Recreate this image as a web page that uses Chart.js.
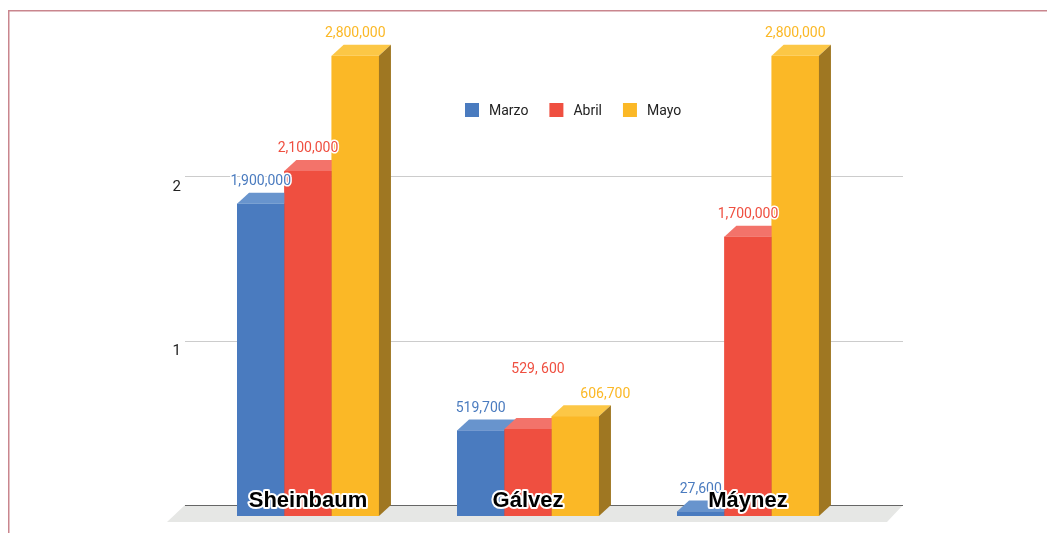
<!DOCTYPE html>
<html>
<head>
<meta charset="utf-8">
<script src="https://cdn.jsdelivr.net/npm/chart.js@4.4.1/dist/chart.umd.min.js"></script>
<style>
  html, body { margin: 0; padding: 0; background: #fff; }
  canvas { display: block; }
</style>
</head>
<body>
<canvas id="myChart" width="1047" height="533"></canvas>
<script>
// data
const candidates = ['Sheinbaum', 'Gálvez', 'Máynez'];
const months = ['Marzo', 'Abril', 'Mayo'];
const marzo = [1900000, 519700, 27600];
const abril = [2100000, 529600, 1700000];
const mayo = [2800000, 606700, 2800000];
const yTicks = [1000000, 2000000];

// front / top / side colours per month
const frontColors = ['#4a7bbf', '#ef4f40', '#fbb826'];
const topColors = ['#6894cd', '#f3736a', '#fcc746'];
const sideColors = ['#2f5b9c', '#a1332a', '#9f7722'];

const DX = 12, DY = 11;

function fmt(v) {
  if (v === 529600) return '529, 600'; // typed like that in the original
  return v.toLocaleString('en-US');
}

// label nudges for the Gálvez group (the original moves them to avoid overlap)
const nudge = { '1-1': [10, -37], '2-1': [30, 0] };

const threeD = {
  id: 'threeD',
  beforeDraw(chart) {
    const ctx = chart.ctx;
    ctx.save();
    ctx.strokeStyle = '#c9868e';
    ctx.lineWidth = 1.5;
    ctx.strokeRect(8.75, 10.75, 1200, 600);
    ctx.restore();
  },
  beforeDatasetsDraw(chart) {
    const ctx = chart.ctx;
    const a = chart.chartArea;
    const y = chart.scales.y;
    const base = y.getPixelForValue(0);
    ctx.save();
    // floor
    ctx.fillStyle = '#e6e7e5';
    ctx.beginPath();
    ctx.moveTo(a.left - 13, base - DY);
    ctx.lineTo(a.right + 45, base - DY);
    ctx.lineTo(a.right + 29, base + 6);
    ctx.lineTo(a.left - 31, base + 6);
    ctx.closePath();
    ctx.fill();
    // gridlines on the back wall
    ctx.strokeStyle = '#cccccc';
    ctx.lineWidth = 1;
    yTicks.forEach(t => {
      const py = Math.round(y.getPixelForValue(t) - DY) + 0.5;
      ctx.beginPath();
      ctx.moveTo(a.left - 13, py);
      ctx.lineTo(a.right + 45, py);
      ctx.stroke();
    });
    ctx.strokeStyle = '#666666';
    ctx.beginPath();
    ctx.moveTo(a.left - 13, base - DY + 0.5);
    ctx.lineTo(a.right + 45, base - DY + 0.5);
    ctx.stroke();
    // axis numbers
    ctx.font = '15px Roboto';
    ctx.fillStyle = '#222222';
    ctx.textAlign = 'right';
    ctx.textBaseline = 'middle';
    yTicks.forEach(t => {
      ctx.fillText(String(t / 1000000), a.left - 17, y.getPixelForValue(t));
    });
    ctx.restore();
  },
  afterDatasetsDraw(chart) {
    const ctx = chart.ctx;
    const a = chart.chartArea;
    ctx.save();
    // boxes, drawn group by group so later bars cover earlier sides
    candidates.forEach((c, i) => {
      chart.data.datasets.forEach((ds, d) => {
        const el = chart.getDatasetMeta(d).data[i];
        const p = el.getProps(['x', 'y', 'base', 'width'], true);
        const l = p.x - p.width / 2, r = p.x + p.width / 2;
        ctx.fillStyle = frontColors[d];
        ctx.fillRect(l, p.y, p.width, p.base - p.y);
        ctx.fillStyle = topColors[d];
        ctx.beginPath();
        ctx.moveTo(l, p.y);
        ctx.lineTo(r, p.y);
        ctx.lineTo(r + DX, p.y - DY);
        ctx.lineTo(l + DX, p.y - DY);
        ctx.closePath();
        ctx.fill();
        ctx.fillStyle = sideColors[d];
        ctx.beginPath();
        ctx.moveTo(r, p.y);
        ctx.lineTo(r + DX, p.y - DY);
        ctx.lineTo(r + DX, p.base - DY);
        ctx.lineTo(r, p.base);
        ctx.closePath();
        ctx.fill();
      });
    });

    // value labels
    ctx.font = '14px Roboto';
    ctx.textAlign = 'center';
    ctx.textBaseline = 'middle';
    ctx.lineJoin = 'round';
    chart.data.datasets.forEach((ds, d) => {
      chart.getDatasetMeta(d).data.forEach((el, i) => {
        const p = el.getProps(['x', 'y'], true);
        const n = nudge[d + '-' + i] || [0, 0];
        const tx = p.x + n[0], ty = p.y - DY - 11 + n[1];
        const txt = fmt(ds.data[i]);
        ctx.strokeStyle = '#ffffff';
        ctx.lineWidth = 3;
        ctx.strokeText(txt, tx, ty);
        ctx.fillStyle = frontColors[d];
        ctx.fillText(txt, tx, ty);
      });
    });

    // category names on the bars
    ctx.font = 'bold 22px "Liberation Sans", Arial, sans-serif';
    ctx.textBaseline = 'alphabetic';
    candidates.forEach((c, i) => {
      const x = chart.scales.x.getPixelForValue(i);
      ctx.strokeStyle = '#ffffff';
      ctx.lineWidth = 4;
      ctx.strokeText(c, x, 507);
      ctx.fillStyle = '#000000';
      ctx.fillText(c, x, 507);
    });

    // legend
    ctx.font = '14px Roboto';
    ctx.textAlign = 'left';
    ctx.textBaseline = 'middle';
    let lx = a.left + 267;
    const ly = 110;
    months.forEach((m, d) => {
      ctx.fillStyle = frontColors[d];
      ctx.fillRect(lx, ly - 7, 14, 14);
      ctx.fillStyle = '#222222';
      ctx.fillText(m, lx + 24, ly + 1);
      lx += 24 + ctx.measureText(m).width + 21;
    });
    ctx.restore();
  }
};

const ctx = document.getElementById('myChart');

new Chart(ctx, {
  type: 'bar',
  data: {
    labels: candidates,
    datasets: [
      { label: months[0], data: marzo, backgroundColor: frontColors[0] },
      { label: months[1], data: abril, backgroundColor: frontColors[1] },
      { label: months[2], data: mayo, backgroundColor: frontColors[2] }
    ]
  },
  options: {
    responsive: false,
    animation: false,
    devicePixelRatio: 1,
    layout: { padding: { top: 23, right: 189, bottom: 17, left: 198 } },
    datasets: { bar: { categoryPercentage: 0.645, barPercentage: 1, borderWidth: 0 } },
    plugins: { legend: { display: false }, tooltip: { enabled: false } },
    scales: {
      x: { display: false },
      y: { display: false, min: 0, max: 3000000 }
    }
  },
  plugins: [threeD]
});
</script>
</body>
</html>
